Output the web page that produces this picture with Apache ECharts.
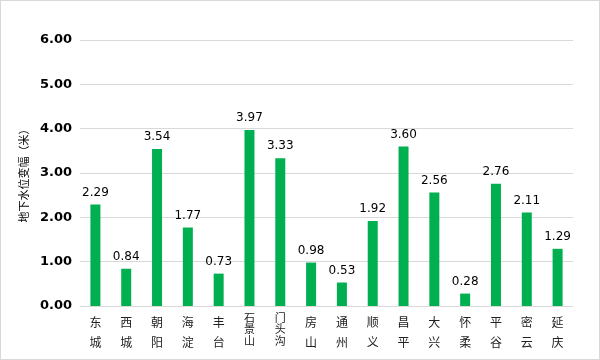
<!DOCTYPE html>
<html><head><meta charset="utf-8">
<script src="https://cdn.jsdelivr.net/npm/echarts@6/dist/echarts.min.js"></script>
<style>html,body{margin:0;padding:0;background:#fff}#c{width:598px;height:358px;border:1px solid #d9d9d9}</style>
</head><body><div id="c"></div>
<script>
var categories = ['东城','西城','朝阳','海淀','丰台','石景山','门头沟','房山','通州','顺义','昌平','大兴','怀柔','平谷','密云','延庆'];
var values = [2.29,0.84,3.54,1.77,0.73,3.97,3.33,0.98,0.53,1.92,3.60,2.56,0.28,2.76,2.11,1.29];
var yName = '地下水位变幅（米）';
var chart = echarts.init(document.getElementById('c'));
chart.setOption({
  animation:false,
  grid:{left:79,right:26,top:39,bottom:53},
  xAxis:{type:'category',data:categories,
    axisLine:{lineStyle:{color:'#d9d9d9'}},axisTick:{show:false},
    axisLabel:{interval:0,color:'#222',fontSize:12,margin:6,fontFamily:'Noto Sans CJK SC',verticalAlign:'top',
      rich:{a:{lineHeight:20,fontSize:12,color:'#222'},b:{lineHeight:11.5,fontSize:11,color:'#222'}},
      formatter:function(v){
        var s=v.length>2?'b':'a';
        return v.split('').map(function(c){return '{'+s+'|'+c+'}';}).join('\n');}}},
  yAxis:{type:'value',min:0,max:6,interval:1,
    name:yName,nameLocation:'middle',nameGap:40,nameRotate:90,
    nameTextStyle:{color:'#000',fontSize:11,fontFamily:'Noto Sans CJK SC'},
    axisLabel:{color:'#000',fontSize:13,fontWeight:'bold',margin:8,fontFamily:'DejaVu Sans',
      formatter:function(v){return v.toFixed(2);}},
    splitLine:{lineStyle:{color:'#d9d9d9'}}},
  series:[{type:'bar',data:values,barWidth:10,itemStyle:{color:'#00B050'},
    label:{show:true,position:'top',color:'#000',fontSize:12,fontFamily:'DejaVu Sans',distance:6,
      formatter:function(p){return p.value.toFixed(2);}}}]
});
</script></body></html>
